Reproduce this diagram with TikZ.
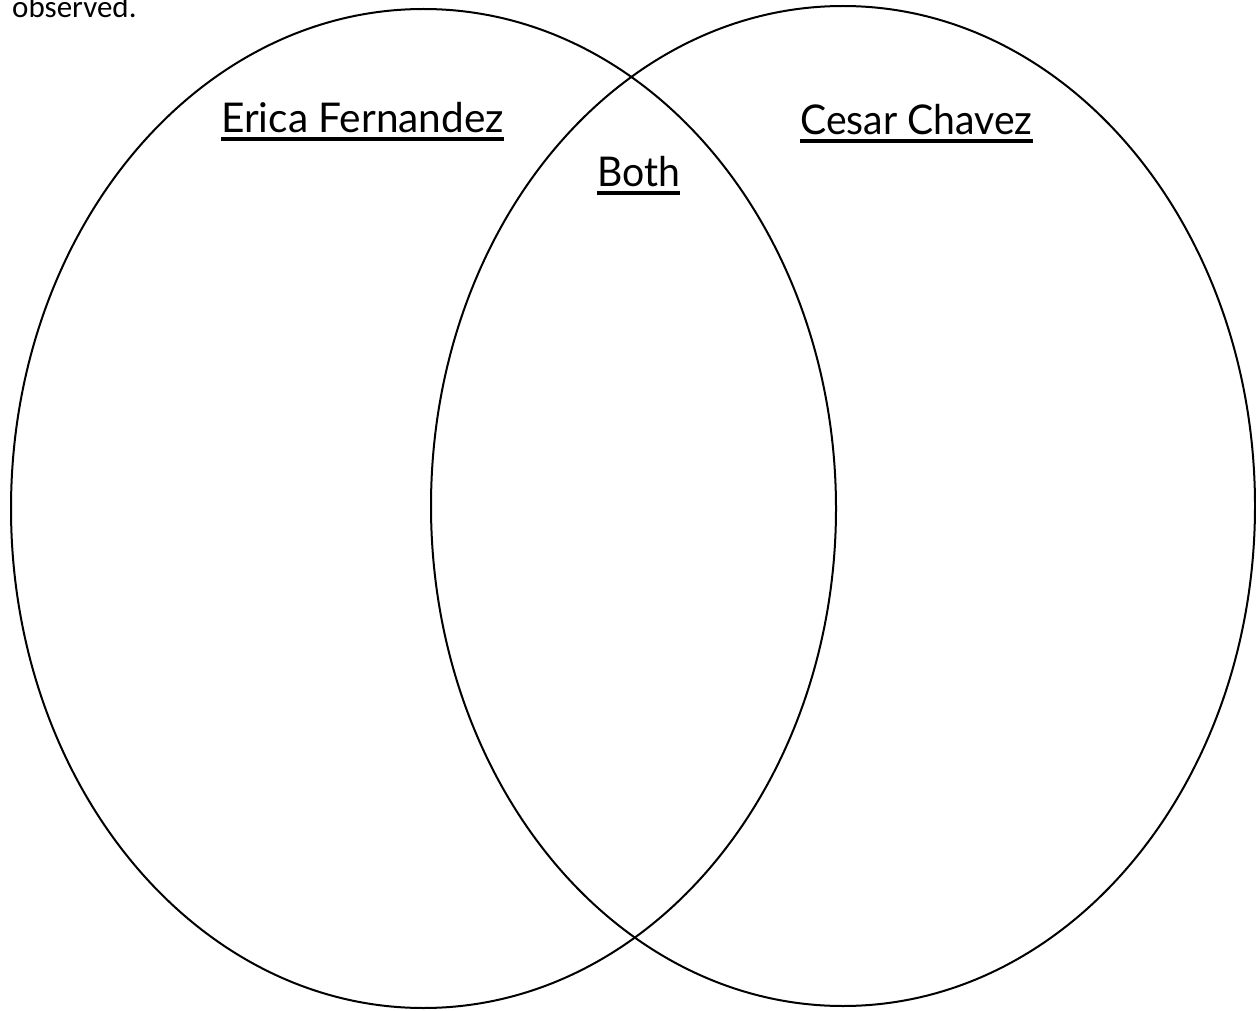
\documentclass[tikz,border=0pt]{standalone}
\usepackage{fontspec}
\setmainfont{Lato}
\newfontfamily\calib{Carlito}
\begin{document}
\begin{tikzpicture}[x=1pt,y=-1pt,
  circ/.style={draw=black,line width=2pt},
  lbl/.style={anchor=base west,inner sep=0pt,font=\fontsize{41}{41}\selectfont},
  uline/.style={line width=3.5pt}]
\useasboundingbox (0,0) rectangle (1256,1011);
\draw[circ] (423.5,508.5) ellipse [x radius=412.5, y radius=499.5];
\draw[circ] (843,506) ellipse [x radius=412, y radius=500];
\node[anchor=base west,inner sep=0pt,font=\calib\fontsize{31}{31}\selectfont] (obs) at (12,18) {observed.};
\node[lbl] (erica) at (221,133) {\scalebox{0.99}[1]{Erica Fernandez}};
\node[lbl] (cesar) at (800,135) {\scalebox{0.955}[1]{Cesar Chavez}};
\node[lbl] (both) at (597,187) {\scalebox{0.955}[1]{Both}};
\draw[uline] ([yshift=-6pt]erica.base west) -- ([yshift=-6pt]erica.base east);
\draw[uline] ([yshift=-6pt]cesar.base west) -- ([yshift=-6pt]cesar.base east);
\draw[uline] ([yshift=-6pt]both.base west) -- ([yshift=-6pt]both.base east);
\end{tikzpicture}
\end{document}
